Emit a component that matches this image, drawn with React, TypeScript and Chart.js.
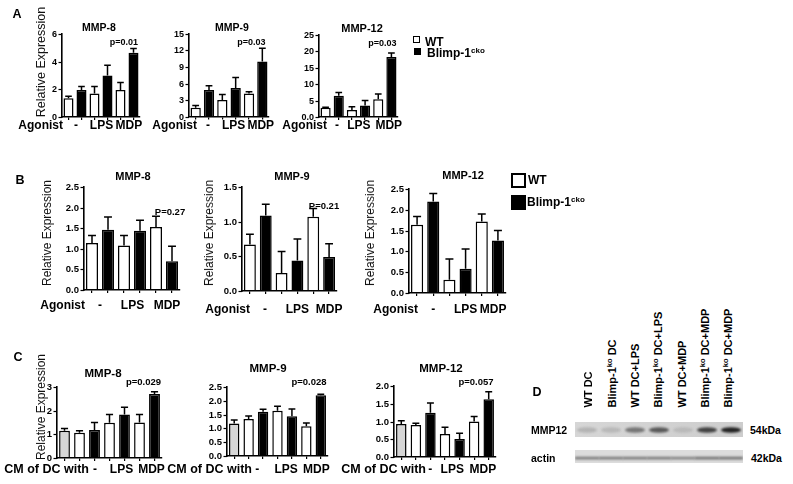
import React, { useEffect, useRef } from 'react';
import { Chart, registerables } from 'chart.js';
Chart.register(...registerables);

const FONT = '"Liberation Sans", Arial, Helvetica, sans-serif';
Chart.defaults.font.family = FONT;

// ---------------- data ----------------
const seriesNames = ['WT', 'Blimp-1'];
const seriesSup = 'cko';
const agonistTicks = ['-', 'LPS', 'MDP'];
const barsAB = ['WT -', 'Blimp-1cko -', 'WT LPS', 'Blimp-1cko LPS', 'WT MDP', 'Blimp-1cko MDP'];
const barsC = ['medium', 'WT -', 'Blimp-1cko -', 'WT LPS', 'Blimp-1cko LPS', 'WT MDP', 'Blimp-1cko MDP'];
const genes = ['MMP-8', 'MMP-9', 'MMP-12'];

const aMmp8 = [1.35, 1.95, 1.7, 3.0, 1.95, 4.65];
const aMmp8Err = [0.15, 0.25, 0.5, 0.75, 0.55, 0.3];
const aMmp9 = [1.6, 4.8, 3.0, 5.2, 4.2, 10.0];
const aMmp9Err = [0.4, 0.8, 1.0, 1.9, 0.3, 2.4];
const aMmp12 = [2.8, 6.5, 2.1, 3.5, 5.4, 18.3];
const aMmp12Err = [0.2, 1.0, 1.0, 1.5, 1.6, 1.2];
const aPValues = ['p=0.01', 'p=0.03', 'p=0.03'];

const bMmp8 = [1.14, 1.46, 1.08, 1.44, 1.53, 0.7];
const bMmp8Err = [0.18, 0.31, 0.24, 0.25, 0.26, 0.36];
const bMmp9 = [0.67, 1.09, 0.26, 0.44, 1.07, 0.49];
const bMmp9Err = [0.15, 0.16, 0.31, 0.31, 0.12, 0.19];
const bMmp12 = [1.64, 2.2, 0.32, 0.58, 1.72, 1.26];
const bMmp12Err = [0.2, 0.19, 0.5, 0.48, 0.18, 0.24];
const bPValues = ['P=0.27', 'P=0.21'];

const cMmp8 = [1.15, 1.07, 1.18, 1.49, 1.84, 1.5, 2.7];
const cMmp8Err = [0.1, 0.08, 0.32, 0.35, 0.3, 0.34, 0.1];
const cMmp9 = [1.18, 1.34, 1.6, 1.64, 1.44, 1.08, 2.2];
const cMmp9Err = [0.12, 0.11, 0.09, 0.16, 0.26, 0.12, 0.04];
const cMmp12 = [0.93, 0.9, 1.25, 0.65, 0.51, 1.0, 1.63];
const cMmp12Err = [0.09, 0.05, 0.27, 0.19, 0.16, 0.14, 0.21];
const cPValues = ['p=0.029', 'p=0.028', 'p=0.057'];

// y-axis tick labels of each panel (A: MMP-8, MMP-9, MMP-12; B: ...; C: ...)
const aTicks8 = ['0', '2', '4', '6'];
const aTicks9 = ['0', '3', '6', '9', '12', '15'];
const aTicks12 = ['0.0', '5', '10', '15', '20', '25'];
const bTicks8 = ['0.0', '0.5', '1.0', '1.5', '2.0', '2.5'];
const bTicks9 = ['0.0', '0.5', '1.0', '1.5'];
const bTicks12 = ['0.0', '0.5', '1.0', '1.5', '2.0', '2.5'];
const cTicks8 = ['0', '1', '2', '3'];
const cTicks9 = ['0.0', '0.5', '1.0', '1.5', '2.0', '2.5'];
const cTicks12 = ['0.0', '0.5', '1.0', '1.5', '2.0'];

const blotLanes = ['WT DC', 'Blimp-1|ko| DC', 'WT DC+LPS', 'Blimp-1|ko| DC+LPS', 'WT DC+MDP', 'Blimp-1|ko| DC+MDP', 'Blimp-1|ko| DC+MDP'];
const mmp12Band = [0.18, 0.15, 0.5, 0.65, 0.12, 0.78, 0.95];
const actinBand = [0.55, 0.55, 0.55, 0.55, 0.5, 0.6, 0.6];
const blotRows = ['MMP12', 'actin'];
const blotSizes = ['54kDa', '42kDa'];

const abColors = ['#ffffff', '#000000', '#ffffff', '#000000', '#ffffff', '#000000'];
const cColors = ['#d6d6d6', '#ffffff', '#000000', '#ffffff', '#000000', '#ffffff', '#000000'];

// ---------------- chart specs (layout) ----------------
type Spec = {
  labels: string[]; values: number[]; errors: number[]; colors: string[];
  max: number; step: number; tickLabels: string[];
  axisX: number; topY: number; zeroY: number; rightX: number;
  tickFont: number; barPct: number;
  groupAt: number[]; groupY: number; groupFont: number;
  leftLabel: string; leftRight: number; leftFont: number;
};

const specs: Spec[] = [
  { labels: barsAB, values: aMmp8, errors: aMmp8Err, colors: abColors, max: 6, step: 2, tickLabels: aTicks8,
    axisX: 62, topY: 34, zeroY: 117, rightX: 140, tickFont: 9, barPct: 0.77,
    groupAt: [0.58, 2.54, 4.65], groupY: 126, groupFont: 12, leftLabel: 'Agonist', leftRight: 63, leftFont: 12 },
  { labels: barsAB, values: aMmp9, errors: aMmp9Err, colors: abColors, max: 15, step: 3, tickLabels: aTicks9,
    axisX: 189, topY: 34, zeroY: 116.5, rightX: 269, tickFont: 9, barPct: 0.77,
    groupAt: [0.93, 2.85, 4.88], groupY: 126, groupFont: 12, leftLabel: 'Agonist', leftRight: 197, leftFont: 12 },
  { labels: barsAB, values: aMmp12, errors: aMmp12Err, colors: abColors, max: 25, step: 5, tickLabels: aTicks12,
    axisX: 319, topY: 35, zeroY: 117, rightX: 398, tickFont: 9, barPct: 0.77,
    groupAt: [0.86, 2.53, 4.8], groupY: 126, groupFont: 12, leftLabel: 'Agonist', leftRight: 327, leftFont: 12 },
  { labels: barsAB, values: bMmp8, errors: bMmp8Err, colors: abColors, max: 2.5, step: 0.5, tickLabels: bTicks8,
    axisX: 84, topY: 187, zeroY: 290, rightX: 180, tickFont: 9.5, barPct: 0.75,
    groupAt: [0.5, 2.53, 4.69], groupY: 306, groupFont: 12, leftLabel: 'Agonist', leftRight: 85, leftFont: 12 },
  { labels: barsAB, values: bMmp9, errors: bMmp9Err, colors: abColors, max: 1.5, step: 0.5, tickLabels: bTicks9,
    axisX: 242, topY: 187, zeroY: 291, rightX: 337, tickFont: 9.5, barPct: 0.75,
    groupAt: [0.96, 3.0, 5.0], groupY: 310, groupFont: 12, leftLabel: 'Agonist', leftRight: 250, leftFont: 12 },
  { labels: barsAB, values: bMmp12, errors: bMmp12Err, colors: abColors, max: 2.5, step: 0.5, tickLabels: bTicks12,
    axisX: 409, topY: 189, zeroY: 293, rightX: 506, tickFont: 9.5, barPct: 0.75,
    groupAt: [1.0, 3.0, 4.7], groupY: 310, groupFont: 12, leftLabel: 'Agonist', leftRight: 418, leftFont: 12 },
  { labels: barsC, values: cMmp8, errors: cMmp8Err, colors: cColors, max: 3, step: 1, tickLabels: cTicks8,
    axisX: 57, topY: 387, zeroY: 458, rightX: 162, tickFont: 9.5, barPct: 0.72,
    groupAt: [2.03, 3.8, 5.8], groupY: 470, groupFont: 12, leftLabel: 'CM of DC with', leftRight: 89, leftFont: 12.5 },
  { labels: barsC, values: cMmp9, errors: cMmp9Err, colors: cColors, max: 2.5, step: 0.5, tickLabels: cTicks9,
    axisX: 227, topY: 387, zeroY: 456, rightX: 328, tickFont: 9.5, barPct: 0.72,
    groupAt: [1.6, 3.6, 5.7], groupY: 470, groupFont: 12, leftLabel: 'CM of DC with', leftRight: 252, leftFont: 12.5 },
  { labels: barsC, values: cMmp12, errors: cMmp12Err, colors: cColors, max: 2.0, step: 0.5, tickLabels: cTicks12,
    axisX: 394, topY: 386, zeroY: 457, rightX: 496, tickFont: 9.5, barPct: 0.72,
    groupAt: [1.98, 3.5, 5.6], groupY: 470, groupFont: 12, leftLabel: 'CM of DC with', leftRight: 426, leftFont: 12.5 },
];

// ---------------- components ----------------
function BarPanel({ spec }: { spec: Spec }) {
  const ref = useRef<HTMLCanvasElement>(null);
  const canvasLeft = Math.max(0, Math.floor(spec.leftRight - 110));
  const canvasTop = Math.floor(spec.topY - 14);
  const yw = spec.axisX - canvasLeft;
  const padTop = spec.topY - canvasTop;
  const areaW = spec.rightX - spec.axisX;
  const areaH = spec.zeroY - spec.topY;
  const xh = spec.groupY + 10 - spec.zeroY;
  const W = Math.ceil(yw + areaW + 6);
  const H = Math.ceil(padTop + areaH + xh);
  const padRight = W - yw - areaW;

  useEffect(() => {
    const s = spec;
    const decor = {
      id: 'decor',
      afterDatasetsDraw(chart: any) {
        const ctx = chart.ctx;
        const ys = chart.scales.y;
        const meta = chart.getDatasetMeta(0);
        ctx.save();
        ctx.strokeStyle = '#000';
        ctx.lineWidth = 1.5;
        meta.data.forEach((bar: any, i: number) => {
          const e = s.errors[i];
          if (!e) return;
          const yt = ys.getPixelForValue(s.values[i] + e);
          const half = bar.width * 0.33;
          ctx.beginPath();
          ctx.moveTo(bar.x, bar.y);
          ctx.lineTo(bar.x, yt);
          ctx.moveTo(bar.x - half, yt);
          ctx.lineTo(bar.x + half, yt);
          ctx.stroke();
        });
        ctx.restore();
      },
      afterDraw(chart: any) {
        const ctx = chart.ctx;
        const xs = chart.scales.x;
        const ys = chart.scales.y;
        const left = chart.chartArea.left;
        ctx.save();
        // y ticks and labels
        ctx.strokeStyle = '#000';
        ctx.lineWidth = 1.2;
        ctx.fillStyle = '#000';
        ctx.textBaseline = 'middle';
        ctx.textAlign = 'right';
        ctx.font = `bold ${s.tickFont}px ${FONT}`;
        s.tickLabels.forEach((lab, i) => {
          const py = Math.round(ys.getPixelForValue(i * s.step)) + 0.5;
          ctx.beginPath();
          ctx.moveTo(left - 3.5, py);
          ctx.lineTo(left, py);
          ctx.stroke();
          ctx.fillText(lab, left - 5, py);
        });
        // group labels
        const p0 = xs.getPixelForValue(0);
        const p1 = xs.getPixelForValue(1);
        const y = s.groupY - canvasTop;
        ctx.font = `bold ${s.groupFont}px ${FONT}`;
        ctx.textAlign = 'center';
        agonistTicks.forEach((t, i) => {
          ctx.fillText(t, p0 + s.groupAt[i] * (p1 - p0), y);
        });
        ctx.font = `bold ${s.leftFont}px ${FONT}`;
        ctx.textAlign = 'right';
        ctx.fillText(s.leftLabel, s.leftRight - canvasLeft, y);
        ctx.restore();
      },
    };
    const chart = new Chart(ref.current as HTMLCanvasElement, {
      type: 'bar',
      data: {
        labels: s.labels,
        datasets: [{
          data: s.values,
          backgroundColor: s.colors,
          borderColor: '#000',
          borderWidth: 1.5,
          barPercentage: s.barPct,
          categoryPercentage: 1,
        }],
      },
      options: {
        responsive: false,
        animation: false,
        devicePixelRatio: 1,
        layout: { padding: { top: padTop, right: padRight, left: 0, bottom: 0 } },
        plugins: { legend: { display: false }, tooltip: { enabled: false } },
        scales: {
          x: {
            offset: true,
            grid: { drawOnChartArea: false, drawTicks: true, tickLength: 3, offset: false, color: '#000', lineWidth: 1.2, z: 1 },
            border: { display: true, color: '#000', width: 1.6, z: 2 },
            ticks: { callback: () => '', padding: 0, autoSkip: false, maxRotation: 0, font: { size: 2 } },
            afterFit: (sc: any) => { sc.height = xh; },
          },
          y: {
            type: 'linear',
            min: 0,
            max: s.max,
            grid: { display: false },
            border: { display: true, color: '#000', width: 1.6, z: 2 },
            ticks: { display: false },
            afterFit: (sc: any) => { sc.width = yw; },
          },
        },
      } as any,
      plugins: [decor],
    });
    return () => chart.destroy();
  }, []);

  return (
    <canvas ref={ref} width={W} height={H}
      style={{ position: 'absolute', left: canvasLeft, top: canvasTop, width: W, height: H }} />
  );
}

function BlotPanel() {
  const ref = useRef<HTMLCanvasElement>(null);
  const left = 575, top = 415, W = 168, H = 55;
  useEffect(() => {
    const blot = {
      id: 'blot',
      beforeDatasetsDraw(chart: any) {
        const ctx = chart.ctx;
        const xs = chart.scales.x;
        const { left: l, right: r } = chart.chartArea;
        const step = xs.getPixelForValue(1) - xs.getPixelForValue(0);
        ctx.save();
        const g1 = ctx.createLinearGradient(l, 0, r, 0);
        g1.addColorStop(0, '#d6d6d6');
        g1.addColorStop(1, '#cdcdcd');
        ctx.fillStyle = g1;
        ctx.fillRect(l, 7, r - l, 15);
        ctx.fillStyle = '#dcdcdc';
        ctx.fillRect(l, 35, r - l, 13);
        ctx.filter = 'blur(1.2px)';
        mmp12Band.forEach((a, i) => {
          const px = xs.getPixelForValue(i);
          ctx.fillStyle = `rgba(25,25,25,${a})`;
          ctx.beginPath();
          ctx.ellipse(px, 15, step * 0.42, 2.8, 0, 0, Math.PI * 2);
          ctx.fill();
        });
        actinBand.forEach((a, i) => {
          const px = xs.getPixelForValue(i);
          ctx.fillStyle = `rgba(40,40,40,${a})`;
          ctx.fillRect(px - step / 2, 41.8, step, 2.6);
        });
        ctx.restore();
      },
    };
    const chart = new Chart(ref.current as HTMLCanvasElement, {
      type: 'bar',
      data: {
        labels: blotLanes.map((s) => s.replace(/\|/g, '')),
        datasets: [{ data: mmp12Band, backgroundColor: 'rgba(0,0,0,0)', borderWidth: 0 }],
      },
      options: {
        responsive: false,
        animation: false,
        devicePixelRatio: 1,
        layout: { padding: 0 },
        plugins: { legend: { display: false }, tooltip: { enabled: false } },
        scales: {
          x: { display: false, offset: true },
          y: { display: false, min: 0, max: 1 },
        },
      } as any,
      plugins: [blot],
    });
    return () => chart.destroy();
  }, []);
  return <canvas ref={ref} width={W} height={H} style={{ position: 'absolute', left, top, width: W, height: H }} />;
}

const T = ({ x, y, size, bold = true, align = 'center', children, color = '#000' }: any) => (
  <div style={{
    position: 'absolute', left: x, top: y,
    transform: `translate(${align === 'center' ? '-50%' : align === 'right' ? '-100%' : '0'}, -50%)`,
    fontSize: size, fontWeight: bold ? 700 : 400, lineHeight: 1, whiteSpace: 'nowrap', fontFamily: FONT, color,
  }}>{children}</div>
);

const VT = ({ x, y, size, bold = false, children }: any) => (
  <div style={{
    position: 'absolute', left: x, top: y, transform: 'translate(-50%, -50%) rotate(-90deg)',
    fontSize: size, fontWeight: bold ? 700 : 400, lineHeight: 1, whiteSpace: 'nowrap', fontFamily: FONT, color: '#111',
  }}>{children}</div>
);

const Sup = ({ children, size = 8 }: any) => (
  <span style={{ fontSize: size, position: 'relative', top: -4 }}>{children}</span>
);

const laneX = [588, 612, 635, 658, 682, 705, 728];

export default function App() {
  const titleA = [[99, 27, 10.5], [232, 27, 10.5], [362, 28, 11]];
  const titleB = [[133, 176, 11], [292, 176, 11], [463, 175, 11]];
  const titleC = [[103, 374, 11.5], [268, 369, 11.5], [441, 369, 11.5]];
  const pA = [[124, 42], [251.5, 42], [382.5, 43]];
  const pB = [[170, 212], [324, 206]];
  const pC = [[143.5, 382], [309, 382], [476, 382]];
  return (
    <div style={{ position: 'fixed', left: 0, top: 0, width: 793, height: 484, background: '#fff', overflow: 'hidden', fontFamily: FONT }}>
      {specs.map((s, i) => <BarPanel key={i} spec={s} />)}
      <BlotPanel />

      {/* panel letters */}
      <T x={17} y={14} size={12.5}>A</T>
      <T x={20} y={180} size={12.5}>B</T>
      <T x={18} y={357} size={12.5}>C</T>
      <T x={537} y={392} size={12.5}>D</T>

      {/* titles */}
      {titleA.map((t, i) => <T key={'ta' + i} x={t[0]} y={t[1]} size={t[2]}>{genes[i]}</T>)}
      {titleB.map((t, i) => <T key={'tb' + i} x={t[0]} y={t[1]} size={t[2]}>{genes[i]}</T>)}
      {titleC.map((t, i) => <T key={'tc' + i} x={t[0]} y={t[1]} size={t[2]}>{genes[i]}</T>)}

      {/* p values */}
      {pA.map((p, i) => <T key={'pa' + i} x={p[0]} y={p[1]} size={9}>{aPValues[i]}</T>)}
      {pB.map((p, i) => <T key={'pb' + i} x={p[0]} y={p[1]} size={9.5}>{bPValues[i]}</T>)}
      {pC.map((p, i) => <T key={'pc' + i} x={p[0]} y={p[1]} size={9.5}>{cPValues[i]}</T>)}

      {/* y-axis titles */}
      <VT x={41} y={62} size={12.5}>Relative Expression</VT>
      <VT x={47} y={233} size={12}>Relative Expression</VT>
      <VT x={209} y={233} size={12}>Relative Expression</VT>
      <VT x={370} y={233} size={12}>Relative Expression</VT>
      <VT x={41} y={407} size={12}>Relative Expression</VT>

      {/* legend A */}
      <div style={{ position: 'absolute', left: 413, top: 36, width: 7, height: 7, border: '1.5px solid #000', boxSizing: 'border-box', background: '#fff' }} />
      <T x={425} y={41.5} size={12} align="left">{seriesNames[0]}</T>
      <div style={{ position: 'absolute', left: 414, top: 48, width: 7, height: 7, background: '#000' }} />
      <T x={427} y={53} size={12} align="left">{seriesNames[1]}<Sup>{seriesSup}</Sup></T>

      {/* legend B */}
      <div style={{ position: 'absolute', left: 511, top: 173, width: 15, height: 15, border: '2px solid #000', boxSizing: 'border-box', background: '#fff' }} />
      <T x={528} y={180} size={12} align="left">{seriesNames[0]}</T>
      <div style={{ position: 'absolute', left: 511, top: 195, width: 15, height: 15, background: '#000' }} />
      <T x={527} y={202} size={12} align="left">{seriesNames[1]}<Sup>{seriesSup}</Sup></T>

      {/* blot lane labels */}
      {blotLanes.map((name, i) => {
        const parts = name.split('|');
        return (
          <div key={'lane' + i} style={{
            position: 'absolute', left: laneX[i], top: 407 - 5.5, height: 11, lineHeight: '11px',
            transformOrigin: '0 50%', transform: 'rotate(-90deg)', fontSize: 11, fontWeight: 700,
            whiteSpace: 'nowrap', fontFamily: FONT, color: '#000',
          }}>
            {parts[0]}{parts.length > 1 ? <Sup size={7.5}>{parts[1]}</Sup> : null}{parts[2] || ''}
          </div>
        );
      })}
      <T x={531} y={430} size={10.5} align="left">{blotRows[0]}</T>
      <T x={531} y={457.5} size={10.5} align="left">{blotRows[1]}</T>
      <T x={750} y={430} size={10.5} align="left">{blotSizes[0]}</T>
      <T x={751} y={458} size={10.5} align="left">{blotSizes[1]}</T>
    </div>
  );
}
